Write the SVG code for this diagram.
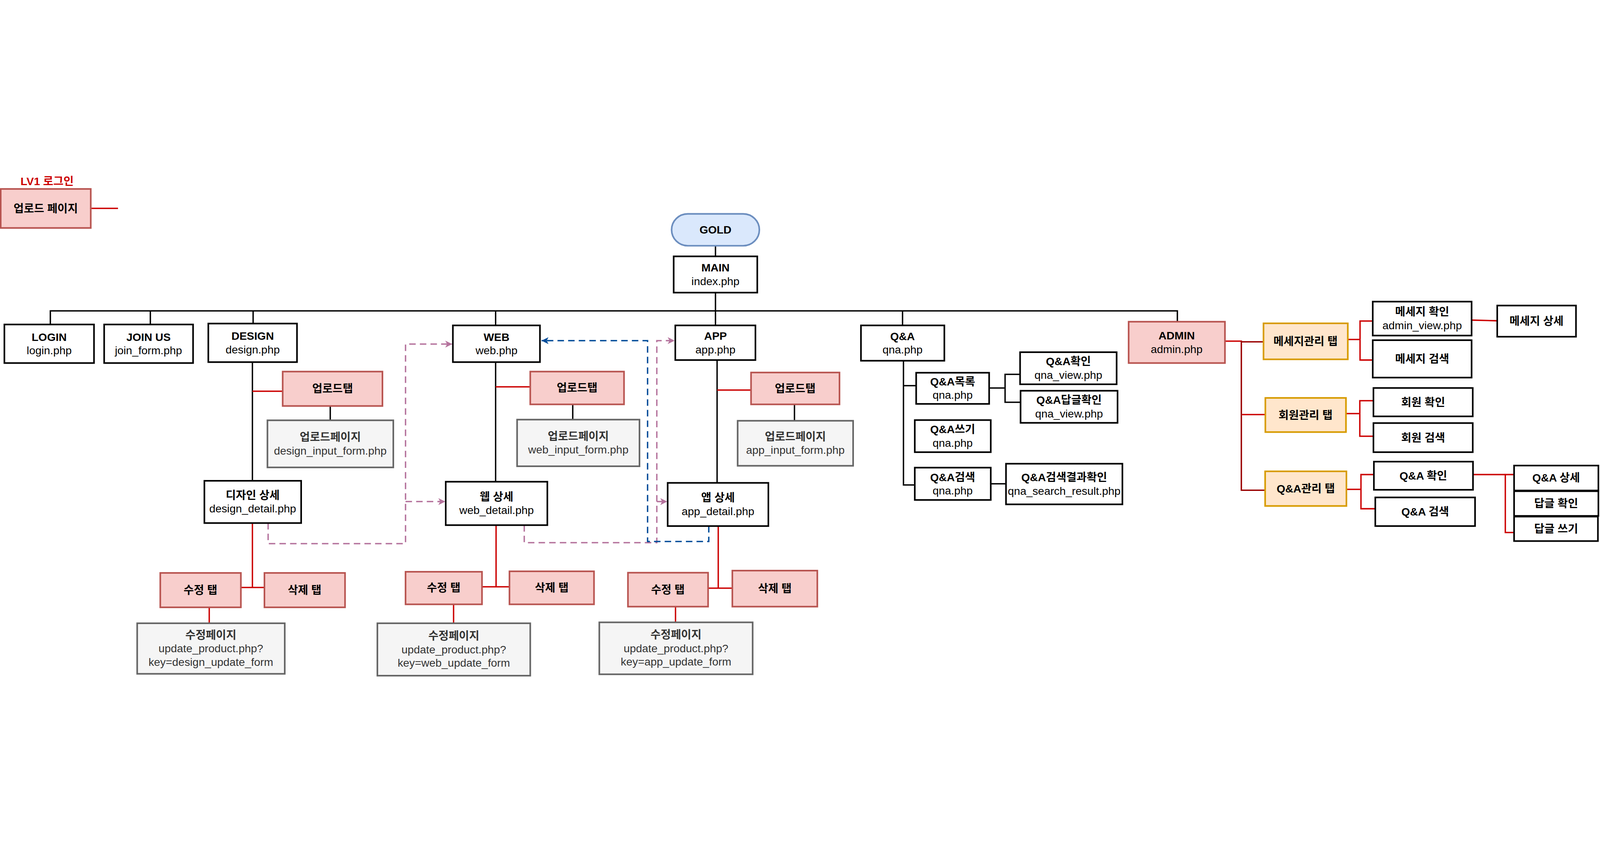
<svg xmlns="http://www.w3.org/2000/svg" width="6928" height="2179" viewBox="0 0 6928 2179">
<style>
svg{width:100vw;height:100vh}
.bg{fill:#ffffff}
.n{fill:#ffffff;stroke:#000000;stroke-width:7}
.r{fill:#f8cecc;stroke:#b85450;stroke-width:7}
.g{fill:#f5f5f5;stroke:#666666;stroke-width:7}
.o{fill:#ffe6cc;stroke:#d79b00;stroke-width:7}
.bln{fill:#dae8fc;stroke:#6c8ebf;stroke-width:7}
.t{font-family:"Liberation Sans","Noto Sans CJK KR",sans-serif;font-size:48px;text-anchor:middle;fill:#000000}
.b{font-weight:bold}
.gt{fill:#333333}
.k{fill:none;stroke:#000000;stroke-width:6}
.rd{fill:none;stroke:#cc0000;stroke-width:6}
.dr{fill:none;stroke:#990000;stroke-width:6}
.pk{fill:none;stroke:#b5739d;stroke-width:6;stroke-dasharray:28 18}
.bl{fill:none;stroke:#004c99;stroke-width:6;stroke-dasharray:28 18}
</style>
<defs>
<marker id="ap" markerUnits="userSpaceOnUse" markerWidth="34" markerHeight="34" refX="30" refY="15" orient="auto"><path d="M0,0 L30,15 L0,30 L8,15 Z" fill="#b5739d"/></marker>
<marker id="ab" markerUnits="userSpaceOnUse" markerWidth="34" markerHeight="34" refX="30" refY="15" orient="auto"><path d="M0,0 L30,15 L0,30 L8,15 Z" fill="#004c99"/></marker>
</defs>
<rect class="bg" x="0" y="0" width="6928" height="2179"/>

<g id="connectors">
<path class="rd" d="M396,149 H511"/>
<path class="k" d="M3098,314 V357"/>
<path class="k" d="M3098,514 V656"/>
<path class="k" d="M218,652 V593 H5098 V640"/>
<path class="k" d="M651,593 V652"/>
<path class="k" d="M1096,593 V648"/>
<path class="k" d="M2146,593 V656"/>
<path class="k" d="M3908,593 V656"/>
<path class="k" d="M1093,815 V1329"/>
<path class="rd" d="M1093,941 H1224"/>
<path class="k" d="M1430,1005 V1067"/>
<path class="rd" d="M1093,1512 V1791"/>
<path class="rd" d="M1043,1791 H1145"/>
<path class="rd" d="M906,1877 V1946"/>
<path class="k" d="M2146,815 V1333"/>
<path class="rd" d="M2146,922 H2296"/>
<path class="k" d="M2480,998 V1064"/>
<path class="rd" d="M2148,1521 V1788"/>
<path class="rd" d="M2087,1788 H2206"/>
<path class="rd" d="M1964,1864 V1946"/>
<path class="k" d="M3105,806 V1338"/>
<path class="rd" d="M3105,936 H3252"/>
<path class="k" d="M3440,998 V1069"/>
<path class="rd" d="M3110,1525 V1794"/>
<path class="rd" d="M3066,1794 H3171"/>
<path class="rd" d="M2925,1874 V1942"/>
<path class="k" d="M3912,809 V1347 H3961"/>
<path class="k" d="M3912,917 H3967"/>
<path class="k" d="M4283,927 H4352"/>
<path class="k" d="M4417,868 H4352 V989 H4419"/>
<path class="k" d="M4290,1342 H4356"/>
<path class="rd" d="M5304,724 H5378"/>
<path class="dr" d="M5375,727 H5471"/>
<path class="dr" d="M5375,724 V1370 H5478"/>
<path class="rd" d="M5378,1042 H5479"/>
<path class="rd" d="M5836,717 H5889"/>
<path class="rd" d="M5944,637 H5889 V806 H5944"/>
<path class="rd" d="M6372,633 L6483,636"/>
<path class="rd" d="M5828,1038 H5888"/>
<path class="rd" d="M5947,982 H5888 V1136 H5947"/>
<path class="rd" d="M5830,1366 H5893"/>
<path class="rd" d="M5949,1302 H5893 V1450 H5955"/>
<path class="rd" d="M6378,1302 H6518"/>
<path class="rd" d="M6556,1302 H6518 V1553 H6556"/>
<path class="pk" d="M1161,1512 V1601 H1756 V737 H1958" marker-end="url(#ap)"/>
<path class="pk" d="M1756,1419 H1928" marker-end="url(#ap)"/>
<path class="pk" d="M2270,1521 V1597 H2844 V722 H2921" marker-end="url(#ap)"/>
<path class="pk" d="M2844,1419 H2889" marker-end="url(#ap)"/>
<path class="bl" d="M3069,1525 V1592 H2804 V722 H2345" marker-end="url(#ab)"/>
</g>

<g id="legend">
<text class="t b" x="204" y="49" style="fill:#cc0000">LV1 로그인</text>
</g>
<g id="legend-box">
<rect class="r" x="3" y="65" width="390" height="169"/>
<text class="t b" x="198" y="167">업로드 페이지</text>
</g>

<g id="gold">
<rect class="bln" x="2908" y="173" width="380" height="138" rx="70" ry="69"/>
<text class="t b" x="3098" y="259">GOLD</text>
</g>
<g id="main">
<rect class="n" x="2917" y="357" width="362" height="157"/>
<text class="t"><tspan class="b" x="3098" y="423">MAIN</tspan><tspan x="3098" y="481">index.php</tspan></text>
</g>
<g id="login">
<rect class="n" x="19" y="652" width="388" height="167"/>
<text class="t"><tspan class="b" x="213" y="723">LOGIN</tspan><tspan x="213" y="781">login.php</tspan></text>
</g>
<g id="join">
<rect class="n" x="451" y="652" width="385" height="167"/>
<text class="t"><tspan class="b" x="643" y="723">JOIN US</tspan><tspan x="643" y="781">join_form.php</tspan></text>
</g>
<g id="design">
<rect class="n" x="902" y="648" width="384" height="167"/>
<text class="t"><tspan class="b" x="1094" y="719">DESIGN</tspan><tspan x="1094" y="777">design.php</tspan></text>
</g>
<g id="web">
<rect class="n" x="1961" y="656" width="377" height="159"/>
<text class="t"><tspan class="b" x="2150" y="723">WEB</tspan><tspan x="2150" y="781">web.php</tspan></text>
</g>
<g id="app">
<rect class="n" x="2924" y="656" width="347" height="150"/>
<text class="t"><tspan class="b" x="3098" y="719">APP</tspan><tspan x="3098" y="777">app.php</tspan></text>
</g>
<g id="qna">
<rect class="n" x="3728" y="656" width="361" height="153"/>
<text class="t"><tspan class="b" x="3908" y="720">Q&amp;A</tspan><tspan x="3908" y="778">qna.php</tspan></text>
</g>
<g id="admin">
<rect class="r" x="4887" y="640" width="417" height="179"/>
<text class="t"><tspan class="b" x="5095" y="717">ADMIN</tspan><tspan x="5095" y="775">admin.php</tspan></text>
</g>

<g id="design-upload-tab">
<rect class="r" x="1224" y="856" width="432" height="149"/>
<text class="t b" x="1440" y="947">업로드탭</text>
</g>
<g id="design-upload-page">
<rect class="g" x="1158" y="1067" width="545" height="204"/>
<text class="t gt"><tspan class="b" x="1430" y="1157">업로드페이지</tspan><tspan x="1430" y="1215">design_input_form.php</tspan></text>
</g>
<g id="design-detail">
<rect class="n" x="885" y="1329" width="419" height="183"/>
<text class="t"><tspan class="b" x="1094" y="1408">디자인 상세</tspan><tspan x="1094" y="1466">design_detail.php</tspan></text>
</g>
<g id="design-edit-tab">
<rect class="r" x="694" y="1728" width="349" height="149"/>
<text class="t b" x="868" y="1819">수정 탭</text>
</g>
<g id="design-delete-tab">
<rect class="r" x="1145" y="1728" width="349" height="149"/>
<text class="t b" x="1319" y="1819">삭제 탭</text>
</g>
<g id="design-edit-page">
<rect class="g" x="594" y="1946" width="639" height="219"/>
<text class="t gt"><tspan class="b" x="913" y="2014">수정페이지</tspan><tspan x="913" y="2072">update_product.php?</tspan><tspan x="913" y="2130">key=design_update_form</tspan></text>
</g>

<g id="web-upload-tab">
<rect class="r" x="2296" y="856" width="406" height="142"/>
<text class="t b" x="2499" y="944">업로드탭</text>
</g>
<g id="web-upload-page">
<rect class="g" x="2239" y="1064" width="530" height="202"/>
<text class="t gt"><tspan class="b" x="2504" y="1153">업로드페이지</tspan><tspan x="2504" y="1211">web_input_form.php</tspan></text>
</g>
<g id="web-detail">
<rect class="n" x="1930" y="1333" width="440" height="188"/>
<text class="t"><tspan class="b" x="2150" y="1415">웹 상세</tspan><tspan x="2150" y="1473">web_detail.php</tspan></text>
</g>
<g id="web-edit-tab">
<rect class="r" x="1756" y="1723" width="331" height="141"/>
<text class="t b" x="1921" y="1810">수정 탭</text>
</g>
<g id="web-delete-tab">
<rect class="r" x="2206" y="1721" width="366" height="143"/>
<text class="t b" x="2389" y="1809">삭제 탭</text>
</g>
<g id="web-edit-page">
<rect class="g" x="1634" y="1946" width="662" height="227"/>
<text class="t gt"><tspan class="b" x="1965" y="2018">수정페이지</tspan><tspan x="1965" y="2076">update_product.php?</tspan><tspan x="1965" y="2134">key=web_update_form</tspan></text>
</g>

<g id="app-upload-tab">
<rect class="r" x="3252" y="860" width="383" height="138"/>
<text class="t b" x="3443" y="946">업로드탭</text>
</g>
<g id="app-upload-page">
<rect class="g" x="3194" y="1069" width="500" height="195"/>
<text class="t gt"><tspan class="b" x="3444" y="1154">업로드페이지</tspan><tspan x="3444" y="1212">app_input_form.php</tspan></text>
</g>
<g id="app-detail">
<rect class="n" x="2891" y="1338" width="436" height="187"/>
<text class="t"><tspan class="b" x="3109" y="1419">앱 상세</tspan><tspan x="3109" y="1477">app_detail.php</tspan></text>
</g>
<g id="app-edit-tab">
<rect class="r" x="2719" y="1727" width="347" height="147"/>
<text class="t b" x="2892" y="1817">수정 탭</text>
</g>
<g id="app-delete-tab">
<rect class="r" x="3171" y="1718" width="368" height="156"/>
<text class="t b" x="3355" y="1813">삭제 탭</text>
</g>
<g id="app-edit-page">
<rect class="g" x="2595" y="1942" width="664" height="225"/>
<text class="t gt"><tspan class="b" x="2927" y="2013">수정페이지</tspan><tspan x="2927" y="2071">update_product.php?</tspan><tspan x="2927" y="2129">key=app_update_form</tspan></text>
</g>

<g id="qna-list">
<rect class="n" x="3967" y="861" width="316" height="135"/>
<text class="t"><tspan class="b" x="4125" y="916">Q&amp;A목록</tspan><tspan x="4125" y="974">qna.php</tspan></text>
</g>
<g id="qna-write">
<rect class="n" x="3961" y="1066" width="329" height="139"/>
<text class="t"><tspan class="b" x="4125" y="1123">Q&amp;A쓰기</tspan><tspan x="4125" y="1181">qna.php</tspan></text>
</g>
<g id="qna-search">
<rect class="n" x="3961" y="1272" width="329" height="140"/>
<text class="t"><tspan class="b" x="4125" y="1330">Q&amp;A검색</tspan><tspan x="4125" y="1388">qna.php</tspan></text>
</g>
<g id="qna-view">
<rect class="n" x="4417" y="772" width="418" height="139"/>
<text class="t"><tspan class="b" x="4626" y="829">Q&amp;A확인</tspan><tspan x="4626" y="887">qna_view.php</tspan></text>
</g>
<g id="qna-reply-view">
<rect class="n" x="4419" y="939" width="420" height="139"/>
<text class="t"><tspan class="b" x="4629" y="996">Q&amp;A답글확인</tspan><tspan x="4629" y="1054">qna_view.php</tspan></text>
</g>
<g id="qna-search-result">
<rect class="n" x="4356" y="1255" width="504" height="176"/>
<text class="t"><tspan class="b" x="4608" y="1331">Q&amp;A검색결과확인</tspan><tspan x="4608" y="1389">qna_search_result.php</tspan></text>
</g>

<g id="msg-tab">
<rect class="o" x="5471" y="647" width="365" height="156"/>
<text class="t b" x="5653" y="742">메세지관리 탭</text>
</g>
<g id="member-tab">
<rect class="o" x="5479" y="970" width="349" height="148"/>
<text class="t b" x="5653" y="1061">회원관리 탭</text>
</g>
<g id="qna-tab">
<rect class="o" x="5478" y="1288" width="352" height="150"/>
<text class="t b" x="5654" y="1380">Q&amp;A관리 탭</text>
</g>
<g id="msg-view">
<rect class="n" x="5944" y="553" width="428" height="147"/>
<text class="t"><tspan class="b" x="6158" y="614">메세지 확인</tspan><tspan x="6158" y="672">admin_view.php</tspan></text>
</g>
<g id="msg-search">
<rect class="n" x="5944" y="720" width="428" height="162"/>
<text class="t b" x="6158" y="818">메세지 검색</text>
</g>
<g id="msg-detail">
<rect class="n" x="6483" y="570" width="341" height="135"/>
<text class="t b" x="6653" y="654">메세지 상세</text>
</g>
<g id="member-view">
<rect class="n" x="5947" y="927" width="430" height="123"/>
<text class="t b" x="6162" y="1005">회원 확인</text>
</g>
<g id="member-search">
<rect class="n" x="5947" y="1079" width="430" height="126"/>
<text class="t b" x="6162" y="1159">회원 검색</text>
</g>
<g id="admin-qna-view">
<rect class="n" x="5949" y="1246" width="429" height="122"/>
<text class="t b" x="6163" y="1324">Q&amp;A 확인</text>
</g>
<g id="admin-qna-search">
<rect class="n" x="5955" y="1401" width="432" height="124"/>
<text class="t b" x="6171" y="1480">Q&amp;A 검색</text>
</g>
<g id="admin-qna-detail">
<rect class="n" x="6556" y="1263" width="365" height="108"/>
<text class="t b" x="6738" y="1333">Q&amp;A 상세</text>
</g>
<g id="admin-reply-view">
<rect class="n" x="6556" y="1374" width="365" height="107"/>
<text class="t b" x="6738" y="1444">답글 확인</text>
</g>
<g id="admin-reply-write">
<rect class="n" x="6556" y="1484" width="363" height="106"/>
<text class="t b" x="6738" y="1554">답글 쓰기</text>
</g>
</svg>
